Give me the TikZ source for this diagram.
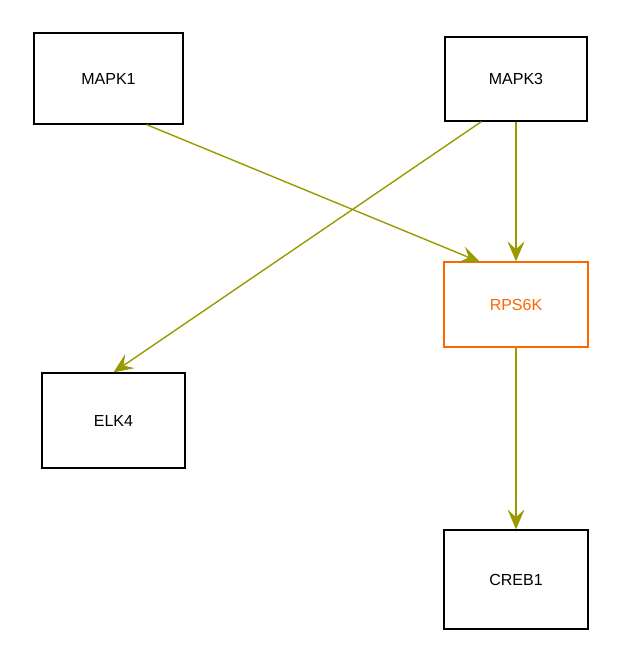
\documentclass[tikz,border=0pt]{standalone}
\usepackage{fontspec}
\setmainfont{Liberation Sans}
\usetikzlibrary{arrows.meta}
\definecolor{edgec}{HTML}{999900}
\definecolor{orangec}{HTML}{FF6600}
\begin{document}
\begin{tikzpicture}[x=1pt,y=-1pt,
  box/.style={draw=black,line width=1.3pt,minimum width=#1,inner sep=0pt,font=\fontsize{16}{19}\selectfont},
  edge/.style={draw=edgec,line width=1.4pt,-{Stealth[length=20pt,width=17pt,inset=8pt]}}]
\useasboundingbox (0,0) rectangle (641,663);
\node[box=149pt,minimum height=91pt] (mapk1) at (108.5,78.5) {MAPK1};
\node[box=142pt,minimum height=84pt] (mapk3) at (516,79) {MAPK3};
\node[box=144pt,minimum height=85pt,draw=orangec,text=orangec] (rps6k) at (516,304.5) {RPS6K};
\node[box=143pt,minimum height=95pt] (elk4) at (113.5,420.5) {ELK4};
\node[box=144pt,minimum height=99pt] (creb1) at (516,579.5) {CREB1};
\draw[edge] (mapk1.south east) ++(-37,0) coordinate (a1) -- (480,262) coordinate (b1);
\draw[edge] (mapk3.south) -- (rps6k.north);
\draw[edge] (mapk3.south west) ++(37,0) -- (elk4.north);
\draw[edge] (rps6k.south) -- (creb1.north);
\end{tikzpicture}
\end{document}
